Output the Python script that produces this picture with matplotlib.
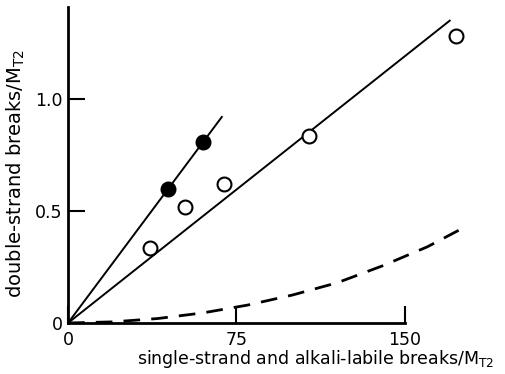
import matplotlib
matplotlib.use("Agg")
import matplotlib.pyplot as plt
import numpy as np

# open circles
open_x = [36.5, 52.0, 69.5, 107.5, 173.0]
open_y = [0.335, 0.52, 0.62, 0.835, 1.28]
# filled circles
filled_x = [44.5, 60.0]
filled_y = [0.60, 0.81]
# fitted straight lines (end points)
steep_x = [0, 68.5]
steep_y = [0, 0.92]
shallow_x = [0, 170.0]
shallow_y = [0, 1.35]
# dashed curve
dash_x = [0, 20, 40, 60, 80, 100, 120, 140, 160, 178]
dash_y = [0, 0.005, 0.02, 0.045, 0.08, 0.125, 0.18, 0.255, 0.34, 0.435]

xticks = [0, 75, 150]
yticks = [0, 0.5, 1.0]

plt.rcParams['font.family'] = ['DejaVu Sans']

fig = plt.figure(figsize=(5.05, 3.74), dpi=100)
ax = fig.add_axes([68 / 505, 51 / 374, 432 / 505, 318 / 374])
ax.set_xlim(0, 192.4)
ax.set_ylim(0, 1.42)

ax.plot(steep_x, steep_y, color='black', lw=1.4)
ax.plot(shallow_x, shallow_y, color='black', lw=1.4)
ax.plot(dash_x, dash_y, color='black', lw=2, dashes=(6, 4))
ax.plot(open_x, open_y, 'o', ms=10, mfc='white', mec='black', mew=1.5,
        clip_on=False, zorder=3)
ax.plot(filled_x, filled_y, 'o', ms=10, mfc='black', mec='black', mew=1.5,
        zorder=3)

for s in ('top', 'right'):
    ax.spines[s].set_visible(False)
ax.spines['left'].set_linewidth(2)
ax.spines['bottom'].set_linewidth(2)
ax.spines['bottom'].set_bounds(0, 150)
ax.spines['left'].set_bounds(0, 1.41)

ax.set_xticks(xticks)
ax.set_xticklabels(['0', '75', '150'])
ax.set_yticks(yticks)
ax.set_yticklabels(['0', '0.5', '1.0'])
ax.tick_params(axis='both', direction='in', length=12, width=1.5,
               labelsize=12.5)
ax.tick_params(axis='y', pad=4)
ax.tick_params(axis='x', pad=6)

ax.set_xlabel(r'single-strand and alkali-labile breaks/$\mathregular{M_{T2}}$',
              fontsize=12.5)
ax.xaxis.set_label_coords(0.574, -0.08)
ax.set_ylabel(r'double-strand breaks/$\mathregular{M_{T2}}$', fontsize=14)
ax.yaxis.set_label_coords(-0.095, 0.47)

fig.savefig('out.png', dpi=100)
